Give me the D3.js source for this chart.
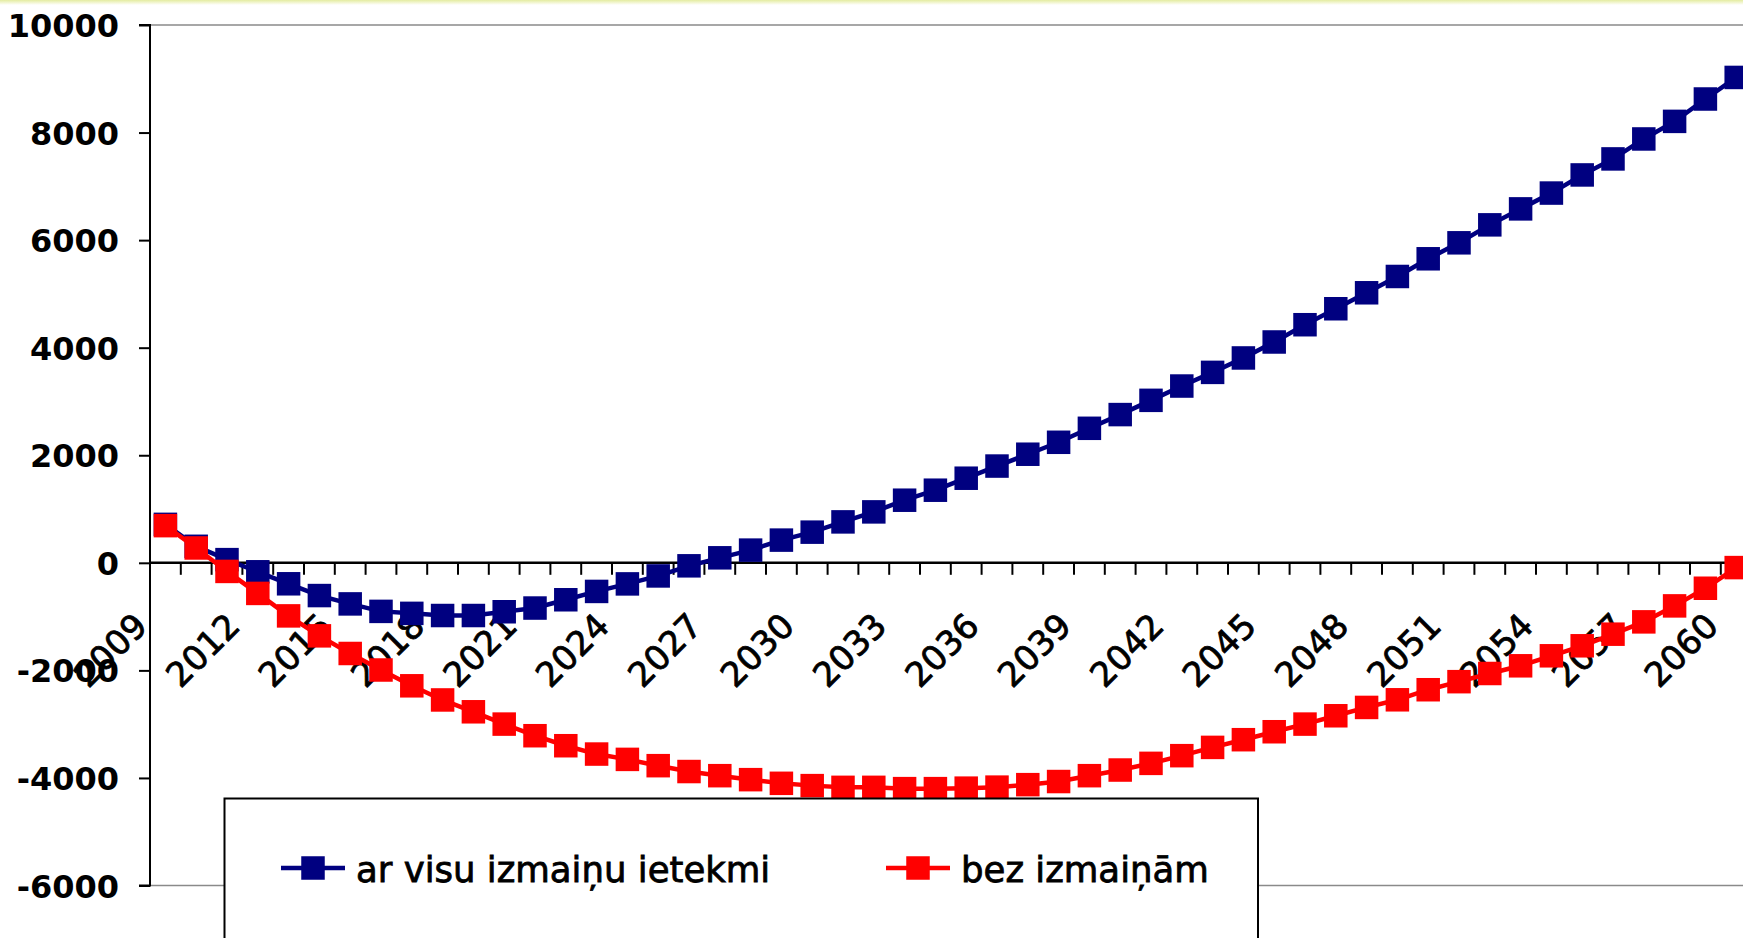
<!DOCTYPE html>
<html>
<head>
<meta charset="utf-8">
<script src="https://cdn.jsdelivr.net/npm/d3@7"></script>
<style>
  body { margin: 0; background: #fff; }
  svg { display: block; }
</style>
</head>
<body>
<svg id="chart" width="1743" height="938"></svg>
<script>
const years = d3.range(2009, 2061);

// ar visu izmaiņu ietekmi
const withChanges = [715, 307, 59, -167, -390, -609, -764, -903, -940, -980,
  -980, -910, -841, -687, -532, -392, -244, -56, 93, 236,
  422, 570, 761, 947, 1164, 1350, 1573, 1799, 2019, 2241,
  2501, 2756, 3021, 3287, 3541, 3809, 4106, 4427, 4724, 5021,
  5324, 5653, 5950, 6284, 6581, 6875, 7212, 7510, 7881, 8208,
  8624, 9025];

// bez izmaiņām
const noChanges = [691, 276, -160, -569, -987, -1358, -1686, -1993, -2287, -2550,
  -2770, -2999, -3215, -3401, -3556, -3655, -3772, -3881, -3958, -4032,
  -4100, -4143, -4175, -4175, -4199, -4199, -4190, -4171, -4125, -4067,
  -3958, -3853, -3729, -3586, -3432, -3289, -3141, -2999, -2844, -2689,
  -2547, -2360, -2210, -2058, -1915, -1729, -1543, -1327, -1098, -801,
  -473, -89];

const yTicks = [-6000, -4000, -2000, 0, 2000, 4000, 6000, 8000, 10000];
const xLabelYears = years.filter((d, i) => i % 3 === 0);

const series = [
  { name: 'ar visu izmaiņu ietekmi', values: withChanges, color: '#000080' },
  { name: 'bez izmaiņām', values: noChanges, color: '#ff0000' }
];

const width = 1743;
const height = 938;
const left = 150;
const step = 30.8;
const markerSize = 23.5;

const svg = d3.select('#chart');

// faint band at the very top
const grad = svg.append('defs').append('linearGradient')
  .attr('id', 'topBand').attr('x1', 0).attr('y1', 0).attr('x2', 0).attr('y2', 1);
grad.append('stop').attr('offset', '0%').attr('stop-color', '#e4eca0');
grad.append('stop').attr('offset', '100%').attr('stop-color', '#ffffff');
svg.append('rect').attr('x', 0).attr('y', 0).attr('width', width).attr('height', 5)
  .style('fill', 'url(#topBand)');

const x = d3.scaleBand()
  .domain(years)
  .range([left, left + years.length * step]);

const y = d3.scaleLinear()
  .domain([-6000, 10000])
  .range([885.5, 25]);

// plot area border (top / bottom)
svg.selectAll('line.border')
  .data([10000, -6000])
  .join('line')
  .classed('border', true)
  .attr('x1', left).attr('x2', width)
  .attr('y1', d => y(d)).attr('y2', d => y(d))
  .style('stroke', '#8a8a8a')
  .style('stroke-width', 1.5);

// y axis (plain hyphen for negatives)
const yAxis = svg.append('g')
  .attr('transform', `translate(${left},0)`)
  .call(d3.axisLeft(y).tickValues(yTicks).tickSize(11).tickPadding(20).tickFormat(d => String(d)));
yAxis.select('.domain').attr('d', `M-11,${y(10000)}H0V${y(-6000)}H-11`)
  .style('stroke', '#000').style('stroke-width', 2);
yAxis.selectAll('.tick line').style('stroke', '#000').style('stroke-width', 2);
yAxis.selectAll('.tick text')
  .attr('dy', '0.36em')
  .style('font-family', '"DejaVu Sans", sans-serif')
  .style('font-weight', 'bold')
  .style('font-size', '32px')
  .style('fill', '#000');

// x axis at zero
const xAxis = svg.append('g');
xAxis.append('line')
  .attr('x1', left).attr('x2', width)
  .attr('y1', y(0)).attr('y2', y(0))
  .style('stroke', '#000').style('stroke-width', 2.5);
xAxis.selectAll('line.xtick')
  .data(years)
  .join('line')
  .classed('xtick', true)
  .attr('x1', d => x(d) + x.bandwidth()).attr('x2', d => x(d) + x.bandwidth())
  .attr('y1', y(0)).attr('y2', y(0) + 12)
  .style('stroke', '#000').style('stroke-width', 2);
xAxis.selectAll('text.xlabel')
  .data(xLabelYears)
  .join('text')
  .classed('xlabel', true)
  .attr('transform', d => `translate(${x(d) + x.bandwidth() / 2 - 16},628) rotate(-45)`)
  .attr('text-anchor', 'end')
  .style('font-family', '"DejaVu Sans", sans-serif')
  .style('font-size', '34px')
  .style('fill', '#000')
  .style('stroke', '#000')
  .style('stroke-width', 0.8)
  .text(d => d);

// lines and markers
const line = d3.line()
  .x((d, i) => x(years[i]) + x.bandwidth() / 2)
  .y(d => y(d));

series.forEach(s => {
  const g = svg.append('g');
  g.append('path')
    .datum(s.values)
    .attr('d', line)
    .style('fill', 'none')
    .style('stroke', s.color)
    .style('stroke-width', 4.5);
  g.selectAll('rect')
    .data(s.values)
    .join('rect')
    .attr('x', (d, i) => x(years[i]) + x.bandwidth() / 2 - markerSize / 2)
    .attr('y', d => y(d) - markerSize / 2)
    .attr('width', markerSize)
    .attr('height', markerSize)
    .style('fill', s.color);
});

// legend
const legend = svg.append('g');
legend.append('rect')
  .attr('x', 224.5).attr('y', 798.5)
  .attr('width', 1033.5).attr('height', 200)
  .style('fill', '#fff')
  .style('stroke', '#000')
  .style('stroke-width', 2);

const legendX = [281, 886];
const item = legend.selectAll('g.item')
  .data(series)
  .join('g')
  .classed('item', true)
  .attr('transform', (d, i) => `translate(${legendX[i]},868)`);
item.append('line')
  .attr('x1', 0).attr('x2', 64)
  .style('stroke', d => d.color)
  .style('stroke-width', 4.5);
item.append('rect')
  .attr('x', 32 - markerSize / 2).attr('y', -markerSize / 2)
  .attr('width', markerSize).attr('height', markerSize)
  .style('fill', d => d.color);
item.append('text')
  .attr('x', 75).attr('y', 14)
  .style('font-family', '"DejaVu Sans", sans-serif')
  .style('font-size', '35.5px')
  .style('fill', '#000')
  .style('stroke', '#000')
  .style('stroke-width', 0.8)
  .text(d => d.name);
</script>
</body>
</html>
